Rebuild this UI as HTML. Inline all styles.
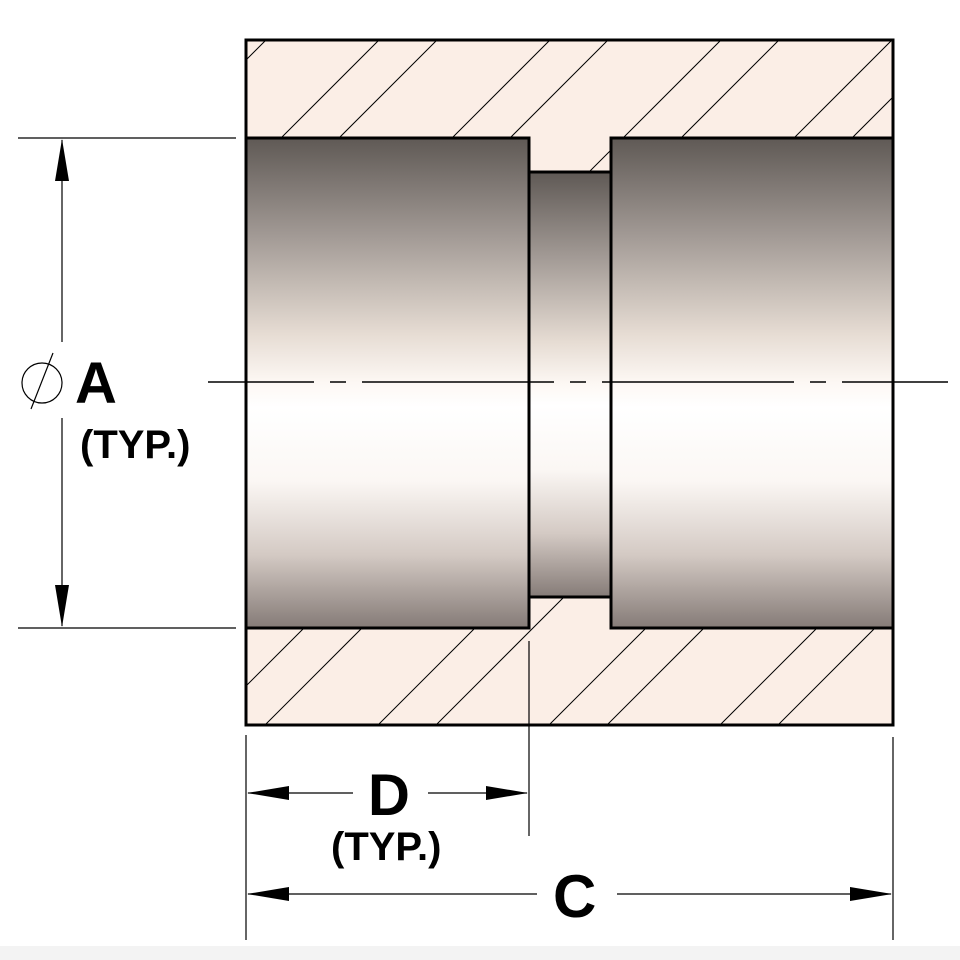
<!DOCTYPE html>
<html><head><meta charset="utf-8"><style>
html,body{margin:0;padding:0;background:#fff;width:960px;height:960px;overflow:hidden}
text{font-family:"Liberation Sans",sans-serif;font-weight:bold;fill:#000}
</style></head><body>
<svg width="960" height="960" viewBox="0 0 960 960" xmlns="http://www.w3.org/2000/svg">
<defs>
<linearGradient id="g" x1="0" y1="0" x2="0" y2="1">
<stop offset="0" stop-color="#5f5955"/>
<stop offset="0.2" stop-color="#a29a95"/>
<stop offset="0.4" stop-color="#e6dcd3"/>
<stop offset="0.5" stop-color="#fdf8f4"/>
<stop offset="0.55" stop-color="#ffffff"/>
<stop offset="0.7" stop-color="#fbf7f4"/>
<stop offset="0.85" stop-color="#d4cac4"/>
<stop offset="1" stop-color="#857b77"/>
</linearGradient>
<pattern id="h" patternUnits="userSpaceOnUse" width="171" height="171" x="0" y="0">
<path d="M87,-10 L-10,87 M145,-10 L-10,145 M258,-10 L-10,258 M316,-10 L-10,316" stroke="#000" stroke-width="1"/>
</pattern>
</defs>
<rect x="0" y="946" width="960" height="14" fill="#f3f3f3"/>
<rect x="246" y="40" width="647" height="685" fill="#fbeee6"/>
<rect x="246" y="40" width="647" height="685" fill="url(#h)"/>
<rect x="246" y="138" width="283" height="490" fill="url(#g)"/>
<rect x="611" y="138" width="282" height="490" fill="url(#g)"/>
<rect x="529" y="172" width="82" height="425" fill="url(#g)"/>
<g stroke="#000" stroke-width="3" fill="none">
<rect x="246" y="40" width="647" height="685"/>
<path d="M246,138 H529 V628 H246"/>
<path d="M893,138 H611 V628 H893"/>
<path d="M529,172 H611 M529,597 H611"/>
</g>
<line x1="208" y1="382" x2="948" y2="382" stroke="#000" stroke-width="1.5" stroke-dasharray="192 16 16 16" stroke-dashoffset="86"/>
<g stroke="#000" stroke-width="1.2">
<line x1="18" y1="138" x2="236" y2="138"/>
<line x1="18" y1="628" x2="236" y2="628"/>
<line x1="62" y1="140" x2="62" y2="342"/>
<line x1="62" y1="418" x2="62" y2="626"/>
<circle cx="42" cy="383" r="20" fill="none"/>
<line x1="31" y1="409" x2="53" y2="353"/>
<line x1="246" y1="735" x2="246" y2="940"/>
<line x1="893" y1="737" x2="893" y2="940"/>
<line x1="529" y1="641" x2="529" y2="836"/>
<line x1="248" y1="793" x2="353" y2="793"/>
<line x1="428" y1="793" x2="527" y2="793"/>
<line x1="248" y1="894" x2="537" y2="894"/>
<line x1="617" y1="894" x2="891" y2="894"/>
</g>
<g fill="#000">
<polygon points="62,139 55,181 69,181"/>
<polygon points="62,627 55,585 69,585"/>
<polygon points="247,793 289,786 289,800"/>
<polygon points="528,793 486,786 486,800"/>
<polygon points="247,894 289,887 289,901"/>
<polygon points="892,894 850,887 850,901"/>
</g>
<text x="75" y="403" font-size="58">A</text>
<text x="80" y="458" font-size="40">(TYP.)</text>
<text x="368" y="815" font-size="58">D</text>
<text x="331" y="860" font-size="40">(TYP.)</text>
<text x="553" y="917" font-size="60">C</text>
</svg>
</body></html>
